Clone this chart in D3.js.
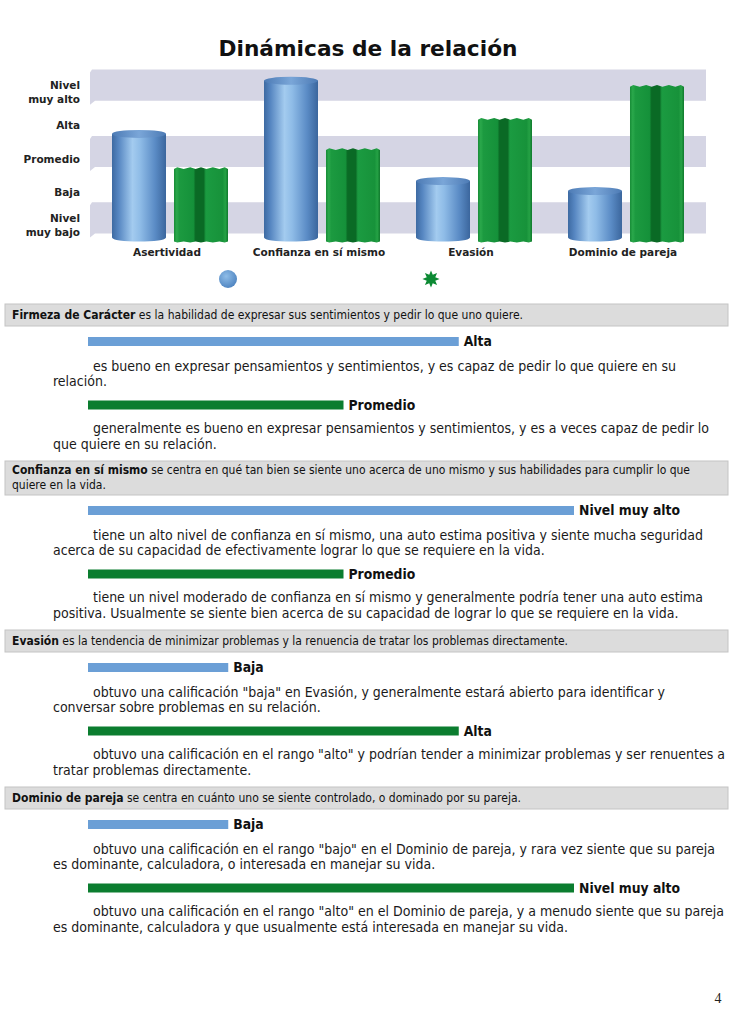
<!DOCTYPE html>
<html><head><meta charset="utf-8">
<script src="https://cdn.jsdelivr.net/npm/d3@7"></script>
<style>html,body{margin:0;padding:0;background:#fff}svg{display:block}</style>
</head><body>
<svg id="c" width="737" height="1024"></svg>
<script>
// ---------------- DATA ----------------
const title = "Dinámicas de la relación";
const categories = ["Asertividad", "Confianza en sí mismo", "Evasión", "Dominio de pareja"];
const levelNames = ["Nivel muy bajo", "Baja", "Promedio", "Alta", "Nivel muy alto"];
const seriesKeys = ["azul", "verde"];
const scoresBlue = [3.24, 4.84, 1.82, 1.52];
const scoresGreen = [2.15, 2.72, 3.63, 4.62];
const levelBlue = [4, 5, 2, 2];   // 1 = Nivel muy bajo ... 5 = Nivel muy alto
const levelGreen = [3, 3, 4, 5];
const sectionTerms = ["Firmeza de Carácter", "Confianza en sí mismo", "Evasión", "Dominio de pareja"];
const sectionDefs = [
  [" es la habilidad de expresar sus sentimientos y pedir lo que uno quiere."],
  [" se centra en qué tan bien se siente uno acerca de uno mismo y sus habilidades para cumplir lo que", "quiere en la vida."],
  [" es la tendencia de minimizar problemas y la renuencia de tratar los problemas directamente."],
  [" se centra en cuánto uno se siente controlado, o dominado por su pareja."]
];
const descBlue = [
  ["es bueno en expresar pensamientos y sentimientos, y es capaz de pedir lo que quiere en su", "relación."],
  ["tiene un alto nivel de confianza en sí mismo, una auto estima positiva y siente mucha seguridad", "acerca de su capacidad de efectivamente lograr lo que se requiere en la vida."],
  ["obtuvo una calificación \"baja\" en Evasión, y generalmente estará abierto para identificar y", "conversar sobre problemas en su relación."],
  ["obtuvo una calificación en el rango \"bajo\" en el Dominio de pareja, y rara vez siente que su pareja", "es dominante, calculadora, o interesada en manejar su vida."]
];
const descGreen = [
  ["generalmente es bueno en expresar pensamientos y sentimientos, y es a veces capaz de pedir lo", "que quiere en su relación."],
  ["tiene un nivel moderado de confianza en sí mismo y generalmente podría tener una auto estima", "positiva. Usualmente se siente bien acerca de su capacidad de lograr lo que se requiere en la vida."],
  ["obtuvo una calificación en el rango \"alto\" y podrían tender a minimizar problemas y ser renuentes a", "tratar problemas directamente."],
  ["obtuvo una calificación en el rango \"alto\" en el Dominio de pareja, y a menudo siente que su pareja", "es dominante, calculadora y que usualmente está interesada en manejar su vida."]
];
const pageNumber = "4";

// ---------------- LAYOUT ----------------
const headerEnds = [523, 690, 568, 521];           // right end of first header line
const descEndsBlue = [676, 703, 665, 715];         // right end of first description line
const descEndsGreen = [709, 703, 725, 724];
const FONT = "'DejaVu Sans', Verdana, sans-serif";
const FONT_C = "'DejaVu Sans Condensed', 'DejaVu Sans', sans-serif";
const BLUE = "#6b9fd6", GREEN = "#0b7d2f";

const svg = d3.select("#c");
const defs = svg.append("defs");

function linGrad(id, stops) {
  const g = defs.append("linearGradient").attr("id", id).attr("x1", 0).attr("x2", 1).attr("y1", 0).attr("y2", 0);
  stops.forEach(([o, c]) => g.append("stop").attr("offset", o).attr("stop-color", c));
}
linGrad("cylBlue", [[0, "#3d6aa2"], [0.12, "#5686c1"], [0.38, "#a3cbef"], [0.52, "#8fbce7"], [0.8, "#5a8bc5"], [1, "#3b669d"]]);
linGrad("cylTop", [[0, "#4d7bb5"], [0.5, "#7aa6d8"], [1, "#4d7bb5"]]);
linGrad("prism", [[0, "#178c37"], [0.05, "#2aa84b"], [0.1, "#1c9a40"], [0.36, "#15913a"], [0.4, "#0a6a25"], [0.55, "#0a6a25"], [0.59, "#1b9b41"], [0.9, "#17923a"], [0.95, "#25a245"], [1, "#10792d"]]);
const rg = defs.append("radialGradient").attr("id", "dot").attr("cx", 0.4).attr("cy", 0.35).attr("r", 0.7);
rg.append("stop").attr("offset", 0).attr("stop-color", "#8fbde8");
rg.append("stop").attr("offset", 1).attr("stop-color", "#4c82bf");

// ---------------- TOP CHART ----------------
svg.append("text").attr("x", 368).attr("y", 56).attr("text-anchor", "middle")
  .attr("font-family", FONT).attr("font-weight", "bold").attr("font-size", 21)
  .attr("textLength", 299).attr("lengthAdjust", "spacingAndGlyphs").attr("fill", "#111").text(title);

const y = d3.scaleLinear().domain([0, 5]).range([241.6, 75.4]);
const x0 = d3.scaleBand().domain(categories).range([94, 702]);
const x1 = d3.scaleBand().domain(seriesKeys).range([18, 134]).paddingInner(0.129);
const depth = 6, ry = 4;

// background stripes (muy bajo, promedio, muy alto)
const stripeLevels = [0, 2, 4];
svg.append("g").selectAll("path").data(stripeLevels).join("path")
  .attr("d", k => {
    const t = y(k + 1) - depth, b = y(k) - depth - 2, l = x0.range()[0] - 2, r = x0.range()[1] + 4;
    return `M${l},${t}L${r},${t}L${r},${b}L${l + 3},${b}L${l - 2},${b + 4}L${l - 2},${t + 3}Z`;
  })
  .attr("fill", "#d5d5e4");

// y tick labels
const yl = svg.append("g").attr("font-family", FONT).attr("font-weight", "bold").attr("font-size", 10.5).attr("fill", "#222");
levelNames.forEach((name, i) => {
  const parts = name.startsWith("Nivel") ? ["Nivel", name.slice(6)] : [name];
  const cy = y(i + 0.5);
  const t = yl.append("text").attr("text-anchor", "end");
  parts.forEach((p, j) => t.append("tspan").attr("x", 80).attr("y", cy + 4 + (j - (parts.length - 1) / 2) * 13.5).text(p));
});

// bars
const groups = svg.append("g").selectAll("g").data(categories).join("g")
  .attr("transform", d => `translate(${x0(d)},0)`);

const y0 = y(0) - ry;
// blue cylinders
groups.each(function (cat, i) {
  const g = d3.select(this);
  const xl = x1("azul"), w = x1.bandwidth(), xr = xl + w, rx = w / 2, yt = y(scoresBlue[i]);
  g.append("path")
    .attr("d", `M${xl},${yt}L${xl},${y0}A${rx},${ry} 0 0 0 ${xr},${y0}L${xr},${yt}Z`)
    .attr("fill", "url(#cylBlue)");
  g.append("ellipse").attr("cx", xl + rx).attr("cy", yt).attr("rx", rx).attr("ry", ry)
    .attr("fill", "url(#cylTop)");
});
// green prisms
groups.each(function (cat, i) {
  const g = d3.select(this);
  const xl = x1("verde"), w = x1.bandwidth(), xr = xl + w, yt = y(scoresGreen[i]) - 2;
  const bumps = [0, 0.06, 0.18, 0.3, 0.4, 0.5, 0.6, 0.72, 0.84, 0.94, 1];
  let top = `M${xl},${y0 + 4}L${xl},${yt + 1}`;
  bumps.forEach((f, j) => { top += `L${xl + f * w},${yt + (j % 2 ? -1 : 0.8)}`; });
  top += `L${xr},${y0 + 4}`;
  bumps.slice().reverse().forEach((f, j) => { top += `L${xl + f * w},${y0 + 4 + (j % 2 ? 0.8 : 0)}`; });
  top += "Z";
  g.append("path").attr("d", top).attr("fill", "url(#prism)");
});

// category labels
svg.append("g").selectAll("text").data(categories).join("text")
  .attr("x", d => x0(d) + x0.bandwidth() / 2 - 3).attr("y", 256)
  .attr("text-anchor", "middle").attr("font-family", FONT).attr("font-weight", "bold")
  .attr("font-size", 10.5).attr("fill", "#222").text(d => d);

// legend
svg.append("circle").attr("cx", 228).attr("cy", 279).attr("r", 9).attr("fill", "url(#dot)");
const starPts = d3.range(16).map(i => [i * Math.PI / 8, i % 2 ? 4.6 : 8.6]);
svg.append("path").attr("transform", "translate(431,279)")
  .attr("d", d3.lineRadial().angle(d => d[0]).radius(d => d[1]).curve(d3.curveLinearClosed)(starPts))
  .attr("fill", "#0c8a33");

// ---------------- TEXT SECTIONS ----------------
const hScale = d3.scaleLinear().domain([1, 5]).range([25, 486]);

// measure helper
const meas = svg.append("text").attr("visibility", "hidden");
function natLen(str, size, family, weight) {
  meas.attr("font-size", size).attr("font-family", family).attr("font-weight", weight || "normal").text(str);
  return meas.node().getComputedTextLength();
}
// header font size
let hr = [];
sectionTerms.forEach((t, i) => {
  meas.text(null).attr("font-size", 10).attr("font-family", FONT_C).attr("font-weight", "normal");
  meas.append("tspan").attr("font-weight", "bold").text(t);
  meas.append("tspan").text(sectionDefs[i][0]);
  hr.push((headerEnds[i] - 12) / meas.node().getComputedTextLength());
});
const headerSize = 10 * d3.mean(hr);
// body font size
let br = [];
descBlue.forEach((d, i) => br.push((descEndsBlue[i] - 93) / natLen(d[0], 12, FONT_C)));
descGreen.forEach((d, i) => br.push((descEndsGreen[i] - 93) / natLen(d[0], 12, FONT_C)));
const bodySize = 12 * d3.mean(br);
meas.remove();

function drawDesc(lines, yc, end) {
  lines.forEach((ln, j) => {
    const t = svg.append("text").attr("x", j === 0 ? 93 : 53).attr("y", yc + j * 15.5 + 4.3)
      .attr("font-family", FONT_C).attr("font-size", bodySize).attr("fill", "#1a1a1a").text(ln);
    if (j === 0) t.attr("textLength", end - 93).attr("lengthAdjust", "spacingAndGlyphs");
  });
}
function drawLevelBar(level, yc, color) {
  const w = hScale(level);
  svg.append("rect").attr("x", 88).attr("y", yc - 4.5).attr("width", w).attr("height", 9).attr("fill", color);
  svg.append("text").attr("x", 88 + w + 5).attr("y", yc + 4.8)
    .attr("font-family", FONT_C).attr("font-weight", "bold").attr("font-size", 13.8).attr("fill", "#111")
    .text(levelNames[level - 1]);
}

let yCur = 304;
sectionTerms.forEach((term, i) => {
  const lines = sectionDefs[i];
  const h = lines.length === 1 ? 22 : 34;
  svg.append("rect").attr("x", 5).attr("y", yCur).attr("width", 723).attr("height", h)
    .attr("fill", "#dcdcdc").attr("stroke", "#c4c4c4").attr("stroke-width", 1);
  const b0 = yCur + (h - (lines.length - 1) * 15) / 2 + 3.5;
  lines.forEach((ln, j) => {
    const t = svg.append("text").attr("x", 12).attr("y", b0 + j * 15)
      .attr("font-family", FONT_C).attr("font-size", headerSize).attr("fill", "#111");
    if (j === 0) {
      t.append("tspan").attr("font-weight", "bold").text(term);
      t.append("tspan").text(ln);
      t.attr("textLength", headerEnds[i] - 12).attr("lengthAdjust", "spacingAndGlyphs");
    } else t.text(ln);
  });
  const hb = yCur + h;
  const blueC = hb + 15.5;
  drawLevelBar(levelBlue[i], blueC, BLUE);
  drawDesc(descBlue[i], blueC + 25, descEndsBlue[i]);
  const greenC = blueC + 63.5;
  drawLevelBar(levelGreen[i], greenC, GREEN);
  drawDesc(descGreen[i], greenC + 24, descEndsGreen[i]);
  yCur = greenC + 56;
});

svg.append("text").attr("x", 718).attr("y", 1003).attr("text-anchor", "middle")
  .attr("font-family", "'Liberation Serif','DejaVu Serif',serif").attr("font-size", 14).attr("fill", "#222").text(pageNumber);
</script>
</body></html>
